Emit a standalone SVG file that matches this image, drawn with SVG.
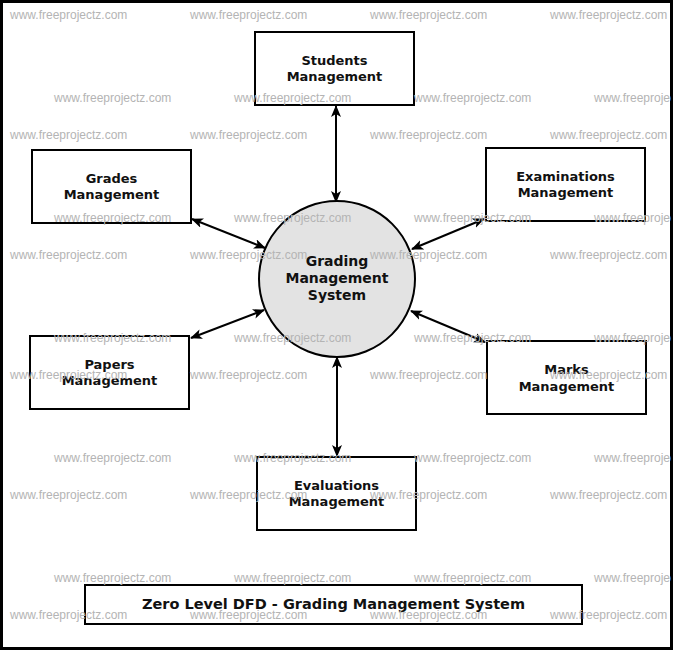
<svg xmlns="http://www.w3.org/2000/svg" width="675" height="652" viewBox="0 0 675 652">
<defs>
<style>
.box{fill:#ffffff;stroke:#000000;stroke-width:2}
.lbl{font-family:"DejaVu Sans",sans-serif;font-weight:bold;font-size:13px;fill:#111111;text-anchor:middle}
.clbl{font-family:"DejaVu Sans",sans-serif;font-weight:bold;font-size:14px;fill:#111111;text-anchor:middle}
.flow{stroke:#000000;stroke-width:2;fill:none;marker-start:url(#ah);marker-end:url(#ah)}
.wm{font-family:"Liberation Sans",Arial,sans-serif;font-size:12px;fill:#b4b4b4}
</style>
<marker id="ah" viewBox="0 0 12 10" refX="11" refY="5" markerWidth="12" markerHeight="10" markerUnits="userSpaceOnUse" orient="auto-start-reverse">
<path d="M0,0 L12,5 L0,10 L3,5 Z" fill="#000000"/>
</marker>
</defs>
<rect x="0" y="0" width="675" height="652" fill="#ffffff"/>
<rect x="1.5" y="1.5" width="670" height="647" fill="none" stroke="#000000" stroke-width="3"/>

<g id="connectors">
<line class="flow" x1="336" y1="106" x2="336" y2="202"/>
<line class="flow" x1="192" y1="219" x2="265" y2="248"/>
<line class="flow" x1="412" y1="249" x2="484" y2="219"/>
<line class="flow" x1="191" y1="338" x2="264" y2="310"/>
<line class="flow" x1="411" y1="311" x2="485" y2="342"/>
<line class="flow" x1="337" y1="357" x2="337" y2="456"/>
</g>

<g id="grading-system">
<circle cx="337" cy="279" r="78" fill="#e3e3e3" stroke="#000000" stroke-width="2"/>
<text class="clbl" x="337" y="266">Grading</text>
<text class="clbl" x="337" y="283">Management</text>
<text class="clbl" x="337" y="300">System</text>
</g>

<g id="students">
<rect class="box" x="255" y="32" width="159" height="73"/>
<text class="lbl" x="334.5" y="65">Students</text>
<text class="lbl" x="334.5" y="81">Management</text>
</g>

<g id="grades">
<rect class="box" x="32" y="150" width="159" height="73"/>
<text class="lbl" x="111.5" y="183">Grades</text>
<text class="lbl" x="111.5" y="199">Management</text>
</g>

<g id="examinations">
<rect class="box" x="486" y="148" width="159" height="73"/>
<text class="lbl" x="565.5" y="181">Examinations</text>
<text class="lbl" x="565.5" y="197">Management</text>
</g>

<g id="papers">
<rect class="box" x="30" y="336" width="159" height="73"/>
<text class="lbl" x="109.5" y="369">Papers</text>
<text class="lbl" x="109.5" y="385">Management</text>
</g>

<g id="marks">
<rect class="box" x="487" y="341" width="159" height="73"/>
<text class="lbl" x="566.5" y="374">Marks</text>
<text class="lbl" x="566.5" y="391">Management</text>
</g>

<g id="evaluations">
<rect class="box" x="257" y="457" width="159" height="73"/>
<text class="lbl" x="336.5" y="490">Evaluations</text>
<text class="lbl" x="336.5" y="506">Management</text>
</g>

<g id="title">
<rect class="box" x="85" y="585" width="497" height="39"/>
<text x="333.5" y="609" font-family="DejaVu Sans,sans-serif" font-weight="bold" font-size="14.5" fill="#111111" text-anchor="middle">Zero Level DFD - Grading Management System</text>
</g>

<g id="watermarks" class="wm">
<text x="10" y="19">www.freeprojectz.com</text><text x="190" y="19">www.freeprojectz.com</text><text x="370" y="19">www.freeprojectz.com</text><text x="550" y="19">www.freeprojectz.com</text>
<text x="54" y="102">www.freeprojectz.com</text><text x="234" y="102">www.freeprojectz.com</text><text x="414" y="102">www.freeprojectz.com</text><text x="594" y="102">www.freeprojectz.com</text>
<text x="10" y="139">www.freeprojectz.com</text><text x="190" y="139">www.freeprojectz.com</text><text x="370" y="139">www.freeprojectz.com</text><text x="550" y="139">www.freeprojectz.com</text>
<text x="54" y="222">www.freeprojectz.com</text><text x="234" y="222">www.freeprojectz.com</text><text x="414" y="222">www.freeprojectz.com</text><text x="594" y="222">www.freeprojectz.com</text>
<text x="10" y="259">www.freeprojectz.com</text><text x="190" y="259">www.freeprojectz.com</text><text x="370" y="259">www.freeprojectz.com</text><text x="550" y="259">www.freeprojectz.com</text>
<text x="54" y="342">www.freeprojectz.com</text><text x="234" y="342">www.freeprojectz.com</text><text x="414" y="342">www.freeprojectz.com</text><text x="594" y="342">www.freeprojectz.com</text>
<text x="10" y="379">www.freeprojectz.com</text><text x="190" y="379">www.freeprojectz.com</text><text x="370" y="379">www.freeprojectz.com</text><text x="550" y="379">www.freeprojectz.com</text>
<text x="54" y="462">www.freeprojectz.com</text><text x="234" y="462">www.freeprojectz.com</text><text x="414" y="462">www.freeprojectz.com</text><text x="594" y="462">www.freeprojectz.com</text>
<text x="10" y="499">www.freeprojectz.com</text><text x="190" y="499">www.freeprojectz.com</text><text x="370" y="499">www.freeprojectz.com</text><text x="550" y="499">www.freeprojectz.com</text>
<text x="54" y="582">www.freeprojectz.com</text><text x="234" y="582">www.freeprojectz.com</text><text x="414" y="582">www.freeprojectz.com</text><text x="594" y="582">www.freeprojectz.com</text>
<text x="10" y="619">www.freeprojectz.com</text><text x="190" y="619">www.freeprojectz.com</text><text x="370" y="619">www.freeprojectz.com</text><text x="550" y="619">www.freeprojectz.com</text>
</g>
<rect x="673" y="0" width="2" height="652" fill="#ffffff"/>
<rect x="671" y="0" width="2" height="650" fill="#000000"/>
</svg>
